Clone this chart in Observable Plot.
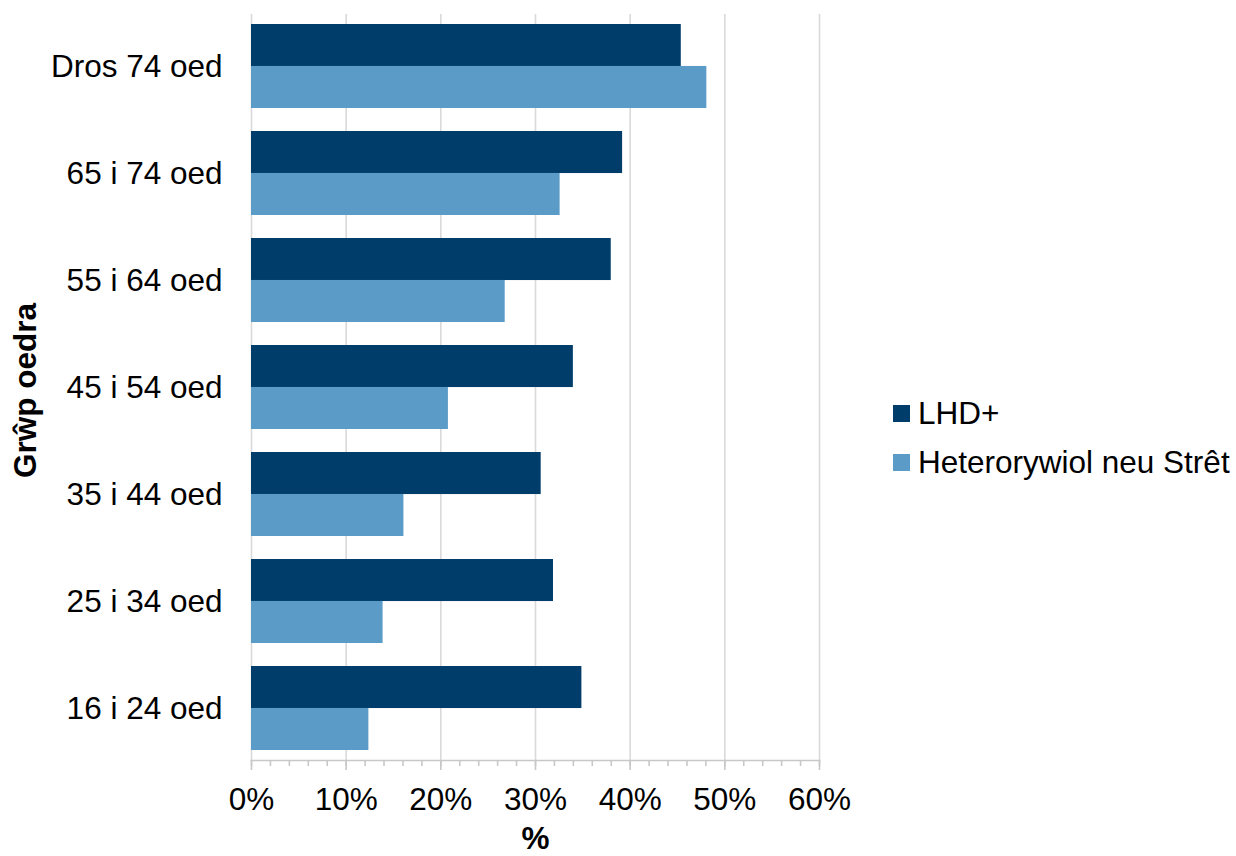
<!DOCTYPE html>
<html><head><meta charset="utf-8">
<script src="https://cdn.jsdelivr.net/npm/d3@7"></script>
<script src="https://cdn.jsdelivr.net/npm/@observablehq/plot@0.6"></script>
<style>
body{margin:0;background:#fff;font-family:"Liberation Sans",Arial,sans-serif}
#wrap{position:relative;width:1236px;height:856px}
#legend{position:absolute;left:893px;top:389px;font-size:31.5px;color:#000}
.item{display:flex;align-items:center;height:49px;white-space:nowrap}
.sw{width:17px;height:17px;margin-right:8px;flex:none}
</style></head><body>
<div id="wrap"><div id="chart"></div><div id="legend"></div></div>
<script>
const categories = ["Dros 74 oed","65 i 74 oed","55 i 64 oed","45 i 54 oed","35 i 44 oed","25 i 34 oed","16 i 24 oed"];
const series = ["LHD+","Heterorywiol neu Strêt"];
const lhdValues = [45.4,39.2,38.0,34.0,30.6,31.9,34.9];
const heteroValues = [48.1,32.6,26.8,20.8,16.1,13.9,12.4];
const seriesColors = ["#003d6b","#5b9bc8"];
const xTicks = [0,10,20,30,40,50,60];
const minorTicks = [0,2,4,6,8,10,12,14,16,18,20,22,24,26,28,30,32,34,36,38,40,42,44,46,48,50,52,54,56,58,60];
const xLabel = "%";
const yLabel = "Grŵp oedra";

const W = 1236, H = 856;
const mL = 251, mR = 417, mT = 14, mB = 96;
const pInner = 0.216, pOuter = 0.093;
const step = (H - mT - mB) / (categories.length - pInner + 2 * pOuter);
const bw = step * (1 - pInner);
const fs = 31.5;

const lhd = categories.map((c, i) => ({cat: c, value: lhdValues[i], series: series[0]}));
const het = categories.map((c, i) => ({cat: c, value: heteroValues[i], series: series[1]}));

const chart = Plot.plot({
  width: W, height: H,
  marginLeft: mL, marginRight: mR, marginTop: mT, marginBottom: mB,
  style: {fontFamily: "Liberation Sans, Arial, sans-serif", fontSize: fs + "px", color: "#000", background: "#fff"},
  x: {domain: [0, 60]},
  y: {domain: categories, paddingInner: pInner, paddingOuter: pOuter},
  color: {domain: series, range: seriesColors},
  marks: [
    Plot.gridX(xTicks, {stroke: "#d9d9d9", strokeOpacity: 1, strokeWidth: 1.6}),
    Plot.barX(lhd, {x: "value", y: "cat", fill: "series", insetBottom: bw / 2}),
    Plot.barX(het, {x: "value", y: "cat", fill: "series", insetTop: bw / 2}),
    Plot.frame({anchor: "bottom", stroke: "#c8c8c8", strokeWidth: 1.6}),
    Plot.axisX(minorTicks, {tickSize: 6, text: null, stroke: "#c8c8c8", strokeWidth: 1.6, label: null}),
    Plot.axisX(xTicks, {tickSize: 10, tickPadding: 17, stroke: "#c8c8c8", strokeWidth: 1.6, fill: "#000", fontSize: fs, tickFormat: d => d + "%", label: null}),
    Plot.axisY({tickSize: 0, tickPadding: 29, fontSize: fs, fill: "#000", label: null}),
    Plot.text([xLabel], {text: d => d, frameAnchor: "bottom", dy: 88, fontWeight: "bold", fontSize: fs, fill: "#000"}),
    Plot.text([yLabel], {text: d => d, frameAnchor: "left", textAnchor: "middle", dx: -226, dy: 3, rotate: -90, fontWeight: "bold", fontSize: fs, fill: "#000"})
  ]
});
document.getElementById("chart").appendChild(chart);

const legend = document.getElementById("legend");
series.forEach((s, i) => {
  const item = document.createElement("div");
  item.className = "item";
  const sw = document.createElement("span");
  sw.className = "sw";
  sw.style.background = seriesColors[i];
  const t = document.createElement("span");
  t.textContent = s;
  item.appendChild(sw); item.appendChild(t);
  legend.appendChild(item);
});
</script>
</body></html>
